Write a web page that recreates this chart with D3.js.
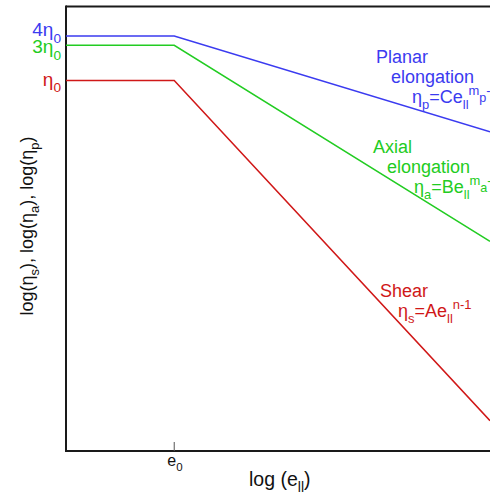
<!DOCTYPE html>
<html><head><meta charset="utf-8">
<script src="https://cdn.jsdelivr.net/npm/d3@7"></script>
<style>
html,body{margin:0;padding:0;background:#fff;}
svg{display:block;font-family:"Liberation Sans",Arial,sans-serif;}
</style></head>
<body>
<script>
// log10(strain rate) positions: left edge, e0, right edge
const logE = [-1.46, 0, 4.26];
// log10(eta / eta0) for each series
const planar = [0.602, 0.602, -0.69];
const axial  = [0.477, 0.477, -2.17];
const shear  = [0, 0, -4.59];
const seriesNames = ["Planar", "Axial", "Shear"];
const yTickValues = [Math.log10(4), Math.log10(3), 0];
const yTickLabels = [["4η", "0"], ["3η", "0"], ["η", "0"]];
const xTickValues = [0];
const xTickLabels = [["e", "0"]];

const W = 490, H = 495;
const colors = {Planar: "#3b3bf0", Axial: "#22cc22", Shear: "#d01818"};
const svg = d3.select("body").append("svg").attr("width", W).attr("height", H);

const x = d3.scaleLinear().domain([logE[0], logE[2]]).range([66, 490]);
const y = d3.scaleLinear().domain([-5, 1]).range([451, 6.5]);

// frame
const ax = "#1a1a1a";
svg.append("line").attr("x1", 66).attr("x2", 492).attr("y1", y(1)).attr("y2", y(1)).attr("stroke", ax).attr("stroke-width", 2);
svg.append("line").attr("x1", 66).attr("x2", 66).attr("y1", y(1) - 1).attr("y2", y(-5) + 1).attr("stroke", ax).attr("stroke-width", 2);
svg.append("line").attr("x1", 65).attr("x2", 492).attr("y1", y(-5)).attr("y2", y(-5)).attr("stroke", ax).attr("stroke-width", 2);

// x tick
xTickValues.forEach(v => {
  svg.append("line").attr("x1", x(v)).attr("x2", x(v)).attr("y1", y(-5) - 9).attr("y2", y(-5))
    .attr("stroke", "#555").attr("stroke-width", 1);
});

function rich(g, px, py, parts, color, size, anchor) {
  const t = g.append("text").attr("x", px).attr("y", py).attr("fill", color)
    .attr("font-size", size).attr("text-anchor", anchor || "start");
  let cur = 0;
  parts.forEach(p => {
    const [s, kind] = p;
    const ts = t.append("tspan").text(s);
    let target = 0, fs = size;
    if (kind === "sub") { target = size * 0.33; fs = size * 0.72; }
    if (kind === "sup") { target = -size * 0.45; fs = size * 0.72; }
    if (kind === "subsub") { target = -size * 0.45 + size * 0.4; fs = size * 0.7; }
    ts.attr("font-size", fs).attr("dy", target - cur);
    cur = target;
  });
  return t;
}

// lines
const series = {Planar: planar, Axial: axial, Shear: shear};
const line = d3.line().x((d, i) => x(logE[i])).y(d => y(d));
seriesNames.forEach(n => {
  svg.append("path").datum(series[n]).attr("d", line).attr("fill", "none")
    .attr("stroke", colors[n]).attr("stroke-width", 1.5);
});

// y tick labels (spread slightly so they do not collide)
const yCols = [colors.Planar, colors.Axial, colors.Shear];
const yLabelShift = [0.5, 8, 5];
yTickValues.forEach((v, i) => {
  rich(svg, 61, y(v) + yLabelShift[i], [[yTickLabels[i][0]], [yTickLabels[i][1], "sub"]], yCols[i], 19, "end");
});

// x tick labels
xTickValues.forEach((v, i) => {
  rich(svg, x(v) - 7, 466, [[xTickLabels[i][0]], [xTickLabels[i][1], "sub"]], "#111", 16);
});

// axis titles
rich(svg, 249, 486, [["log (e"], ["ll", "sub"], [")"]], "#111", 19.5);
const yl = svg.append("g").attr("transform", "translate(33,226) rotate(-90)");
rich(yl, 0, 0, [["log(η"], ["s", "sub"], ["), log(η"], ["a", "sub"], ["), log(η"], ["p", "sub"], [")"]], "#111", 18, "middle");

// series labels
const lab = svg.append("g");
const fs = 18;
rich(lab, 376, 63, [["Planar"]], colors.Planar, fs);
rich(lab, 391, 83, [["elongation"]], colors.Planar, fs);
rich(lab, 412, 103, [["η"], ["p", "sub"], ["=Ce"], ["ll", "sub"], ["m", "sup"], ["p", "subsub"], ["-1", "sup"]], colors.Planar, fs);

rich(lab, 373, 153, [["Axial"]], colors.Axial, fs);
rich(lab, 387, 173, [["elongation"]], colors.Axial, fs);
rich(lab, 414, 193, [["η"], ["a", "sub"], ["=Be"], ["ll", "sub"], ["m", "sup"], ["a", "subsub"], ["-1", "sup"]], colors.Axial, fs);

rich(lab, 380, 297, [["Shear"]], colors.Shear, fs);
rich(lab, 398, 317, [["η"], ["s", "sub"], ["=Ae"], ["ll", "sub"], ["n-1", "sup"]], colors.Shear, fs);
</script>
</body></html>
